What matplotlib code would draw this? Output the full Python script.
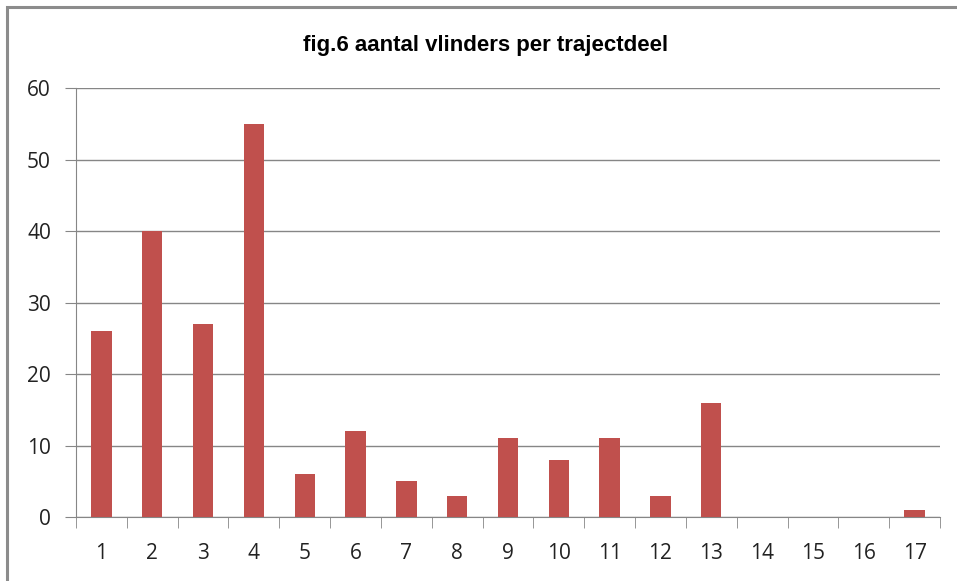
import matplotlib.pyplot as plt
from matplotlib.patches import Rectangle

trajectdelen = [str(i) for i in range(1, 18)]
aantallen = [26, 40, 27, 55, 6, 12, 5, 3, 11, 8, 11, 3, 16, 0, 0, 0, 1]
y_ticks = [0, 10, 20, 30, 40, 50, 60]

W, H = 957, 581
fig = plt.figure(figsize=(W / 100, H / 100), dpi=100)
ax = fig.add_axes([76 / W, 1 - 517 / H, (940 - 76) / W, (517 - 88) / H])

x = range(len(aantallen))
ax.bar(x, aantallen, width=0.4, color='#C0504D', zorder=3)

ax.set_xlim(-0.5, len(aantallen) - 0.5)
ax.set_ylim(0, 60)
ax.set_yticks(y_ticks)
ax.set_xticks(list(x))
ax.set_xticklabels(trajectdelen)
ax.set_xticks([i - 0.5 for i in range(len(aantallen) + 1)], minor=True)
ax.tick_params(axis='x', which='major', length=0, pad=19, labelsize=15)
ax.tick_params(axis='x', which='minor', length=8, color='#868686', direction='out')
ax.tick_params(axis='y', length=8, color='#868686', pad=10, labelsize=15)
for lab in ax.get_xticklabels() + ax.get_yticklabels():
    lab.set_fontfamily(['Open Sans', 'DejaVu Sans'])
    lab.set_color('#222222')

ax.grid(axis='y', color='#868686', linewidth=1, zorder=0)
for side in ['top', 'right']:
    ax.spines[side].set_visible(False)
ax.spines['left'].set_color('#868686')
ax.spines['bottom'].set_color('#868686')

fig.text(486 / W, 1 - 46 / H, 'fig.6 aantal vlinders per trajectdeel',
         ha='center', va='center', fontsize=16, fontweight='bold',
         family=['Liberation Sans Narrow', 'Liberation Sans', 'DejaVu Sans'])

fig.patches.append(Rectangle((7 / W, -0.1), 1.2, 1.1 - 7 / H, transform=fig.transFigure,
                             fill=False, edgecolor='#8c8c8c', linewidth=2.2))

fig.savefig('out.png', dpi=100)
